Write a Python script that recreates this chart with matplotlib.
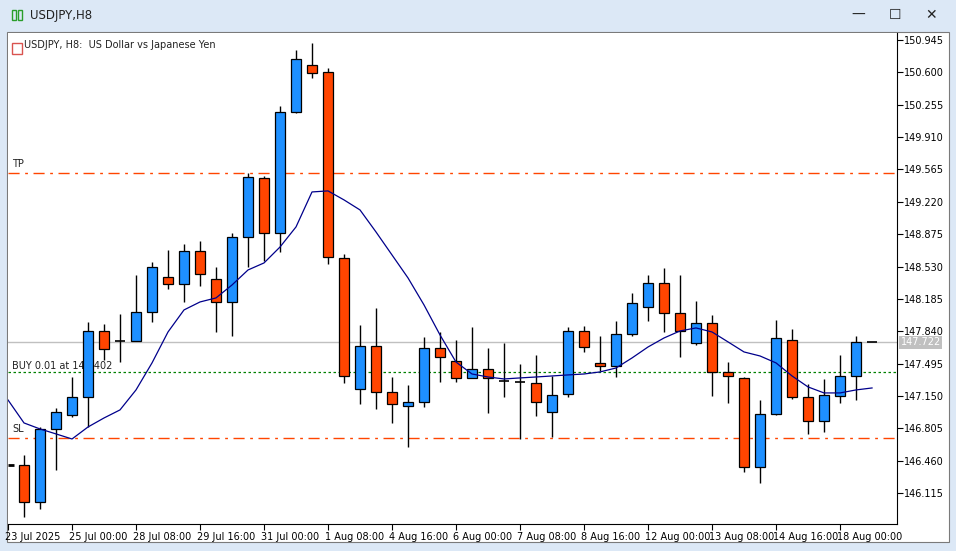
import matplotlib
matplotlib.use("Agg")
import matplotlib.pyplot as plt
import matplotlib.transforms as mtrans
from matplotlib.patches import Rectangle

opens  = [146.414,146.020,146.798,146.947,147.139,147.843,147.736,147.736,148.045,148.419,
          148.344,148.696,148.397,148.152,148.845,149.474,148.888,150.178,150.679,150.604,
          148.621,147.224,147.683,147.192,147.043,147.086,147.662,147.523,147.342,147.438,
          147.310,147.299,147.288,146.979,147.171,147.843,147.502,147.470,147.811,148.099,
          148.355,148.035,147.715,147.928,147.406,147.342,146.393,146.958,147.747,147.139,
          146.883,147.150,147.363,147.722]
highs  = [146.521,146.819,147.022,147.352,147.939,147.918,148.024,148.440,148.579,148.706,
          148.770,148.802,148.525,148.888,149.527,149.495,150.242,150.839,150.914,150.647,
          148.664,147.907,148.088,147.352,147.267,147.779,147.832,147.747,147.886,147.662,
          147.715,147.491,147.587,147.363,147.886,147.896,147.790,147.950,148.248,148.440,
          148.515,148.440,148.163,148.014,147.512,147.352,147.107,147.960,147.864,147.278,
          147.331,147.587,147.790,147.722]
lows   = [145.860,145.945,146.361,146.926,146.819,147.534,147.512,147.736,147.939,148.291,
          148.152,148.323,147.832,147.790,148.525,148.589,148.685,150.167,150.540,148.557,
          147.288,147.065,147.011,146.862,146.606,147.033,147.299,147.299,147.342,146.969,
          147.139,146.691,146.937,146.713,147.139,147.619,147.416,147.352,147.790,147.950,
          147.832,147.566,147.694,147.150,147.075,146.340,146.222,146.947,147.118,146.745,
          146.766,147.075,147.107,147.722]
closes = [146.020,146.798,146.979,147.139,147.843,147.651,147.736,148.045,148.525,148.344,
          148.696,148.451,148.152,148.845,149.485,148.888,150.178,150.743,150.594,148.632,
          147.363,147.683,147.192,147.065,147.086,147.662,147.566,147.342,147.438,147.342,
          147.310,147.288,147.086,147.161,147.843,147.672,147.470,147.811,148.141,148.355,
          148.035,147.843,147.928,147.406,147.363,146.393,146.958,147.768,147.139,146.883,
          147.161,147.363,147.726,147.722]
ma_values = [147.107,146.862,146.798,146.745,146.691,146.819,146.915,147.001,147.214,147.502,
             147.832,148.067,148.152,148.195,148.333,148.493,148.568,148.738,148.952,149.325,
             149.336,149.240,149.133,148.898,148.653,148.408,148.120,147.800,147.511,147.384,
             147.352,147.331,147.342,147.352,147.363,147.374,147.384,147.406,147.448,147.555,
             147.672,147.768,147.843,147.875,147.832,147.726,147.619,147.576,147.502,147.363,
             147.246,147.182,147.182,147.214,147.235]
time_labels = ["23 Jul 2025","25 Jul 00:00","28 Jul 08:00","29 Jul 16:00","31 Jul 00:00",
               "1 Aug 08:00","4 Aug 16:00","6 Aug 00:00","7 Aug 08:00","8 Aug 16:00",
               "12 Aug 00:00","13 Aug 08:00","14 Aug 16:00","18 Aug 00:00"]
price_ticks = [150.945,150.600,150.255,149.910,149.565,149.220,148.875,148.530,148.185,
               147.840,147.495,147.150,146.805,146.460,146.115]
tp_level, buy_level, sl_level, cur_price = 149.527, 147.406, 146.702, 147.722

W, H = 956, 551
fig = plt.figure(figsize=(W/100, H/100), dpi=100)
fig.patch.set_facecolor("#dce8f6")
def fx(x): return x / W
def fy(y): return 1 - y / H
fig.patches.append(Rectangle((fx(7), fy(542)), fx(942), 510/H, transform=fig.transFigure,
                             facecolor="white", edgecolor="#7a7a7a", lw=0.8, zorder=-10))
fig.text(fx(30), fy(15), "USDJPY,H8", fontsize=8.5, va="center", ha="left", color="#222")
fig.patches.append(Rectangle((fx(12), fy(20)), fx(4), 10/H, transform=fig.transFigure,
                             facecolor="none", edgecolor="#2a9d2a", lw=1))
fig.patches.append(Rectangle((fx(18), fy(20)), fx(4), 10/H, transform=fig.transFigure,
                             facecolor="none", edgecolor="#2a9d2a", lw=1))
for xx, s in [(858, "—"), (895, "☐"), (931, "✕")]:
    fig.text(fx(xx), fy(15), s, fontsize=10, ha="center", va="center", color="#222")

ax = fig.add_axes([fx(8), fy(524), fx(889), (524-33)/H])
ax.set_zorder(5)
ax.set_facecolor("white")
ymax = 150.945 + 7/93.79
ymin = 150.945 - 484/93.79
ax.set_ylim(ymin, ymax)
ax.set_xlim(-1, 54.56)

ax.axhline(cur_price, color="#c0c0c0", lw=1, zorder=1)
ax.axhline(tp_level, color="#ff4500", lw=1, ls=(0, (8, 4, 2, 4)), zorder=1)
ax.axhline(sl_level, color="#ff4500", lw=1, ls=(0, (8, 4, 2, 4)), zorder=1)
ax.axhline(buy_level, color="#008000", lw=0.9, ls=(0, (2, 2)), zorder=1)
ax.text(0.005, tp_level + 0.06, "TP", fontsize=7, transform=ax.get_yaxis_transform(), color="#222")
ax.text(0.005, sl_level + 0.06, "SL", fontsize=7, transform=ax.get_yaxis_transform(), color="#222")
ax.text(0.005, buy_level + 0.03, "BUY 0.01 at 147.402", fontsize=7,
        transform=ax.get_yaxis_transform(), color="#222")

n = len(opens)
xs = list(range(n))
ax.vlines(xs, lows, highs, color="black", lw=1, zorder=2)
for i in xs:
    o, c = opens[i], closes[i]
    col = "#1e90ff" if c > o else "#ff4500"
    if abs(c - o) < 0.02:
        ax.hlines(o, i - 0.31, i + 0.31, color="black", lw=1.2, zorder=3)
    else:
        ax.bar(i, abs(c - o), bottom=min(o, c), width=0.62, color=col,
               edgecolor="black", lw=0.9, zorder=3)
ax.plot(range(-1, n), ma_values, color="#00008b", lw=0.9, zorder=4)
ax.hlines(146.414, -1, -0.65, color="black", lw=2, zorder=4)

ax.yaxis.tick_right()
ax.set_yticks(price_ticks)
ax.set_yticklabels([f"{p:.3f}" for p in price_ticks], fontsize=7)
tick_pos = list(range(-1, 52, 4))
ax.set_xticks(tick_pos)
ax.set_xticklabels(time_labels, fontsize=7, ha="left")
ax.tick_params(axis="both", length=4, width=0.8, colors="black", pad=2)
ax.tick_params(axis="y", pad=1)
off = mtrans.ScaledTranslation(-2/72, 0, fig.dpi_scale_trans)
for lab in ax.get_xticklabels():
    lab.set_transform(lab.get_transform() + off)
for s in ["top", "left"]:
    ax.spines[s].set_visible(False)
for s in ["right", "bottom"]:
    ax.spines[s].set_color("black")
    ax.spines[s].set_linewidth(0.8)

ax.text(1.004, cur_price, "147.722", transform=ax.get_yaxis_transform(), fontsize=7,
        color="white", va="center", ha="left",
        bbox=dict(boxstyle="square,pad=0.15", fc="#c0c0c0", ec="none"))
ax.text(0.018, 0.985, "USDJPY, H8:  US Dollar vs Japanese Yen", transform=ax.transAxes,
        fontsize=7, va="top", ha="left", color="#222")
ax.add_patch(Rectangle((0.004, 0.958), 0.012, 0.022, transform=ax.transAxes,
                       facecolor="white", edgecolor="#d9534f", lw=1))
fig.savefig("out.png", dpi=100)
